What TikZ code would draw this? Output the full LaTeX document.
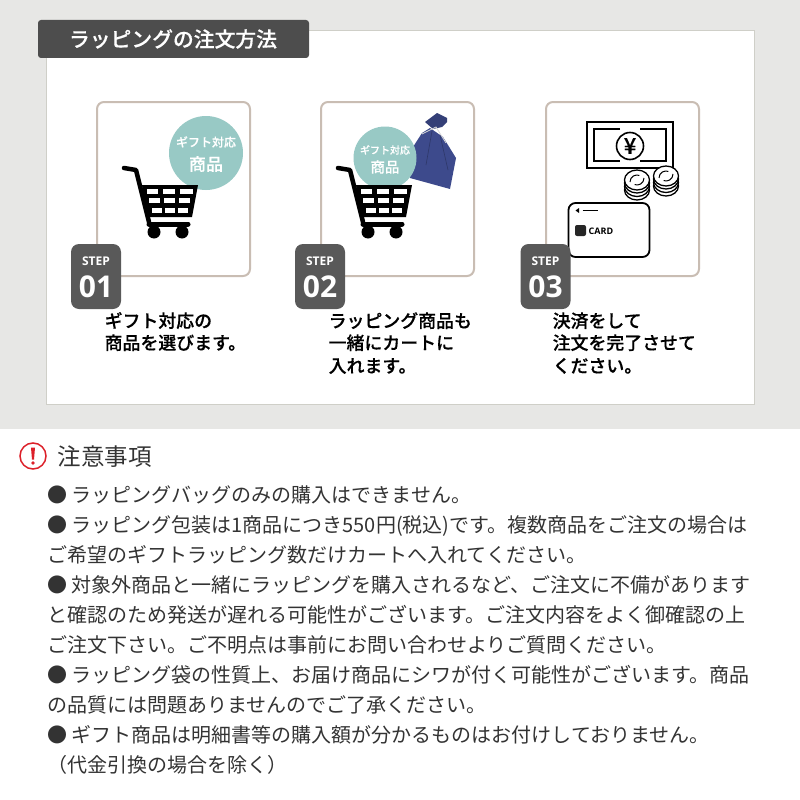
\documentclass[tikz,border=0pt]{standalone}
\usepackage{fontspec}
\setmainfont{Noto Sans CJK JP}
\newfontfamily\jpmedium[FakeBold=0.35]{Noto Sans CJK JP Medium}
\newfontfamily\latinfont{Open Sans}
\usetikzlibrary{positioning}
\definecolor{pagegray}{HTML}{E7E7E5}
\definecolor{panelline}{HTML}{CFCFC8}
\definecolor{barcolor}{HTML}{4D4D4D}
\definecolor{boxline}{HTML}{C9BDB3}
\definecolor{badgecolor}{HTML}{595959}
\definecolor{tealcolor}{HTML}{98C9C5}
\definecolor{bagcolor}{HTML}{3D4A8C}
\definecolor{textcolor}{HTML}{333333}
\definecolor{alertred}{HTML}{DC2029}
\tikzset{
  stepbox/.style={draw=boxline, line width=2pt, fill=white, rounded corners=7pt, minimum width=153pt, minimum height=174pt, inner sep=0pt},
  badge/.style={fill=badgecolor, rounded corners=8pt, minimum width=50pt, minimum height=65pt, inner sep=0pt},
  steplabel/.style={text=white, inner sep=0pt, font=\latinfont\bfseries\fontsize{12}{12}\selectfont},
  stepnum/.style={text=white, inner sep=0pt, font=\latinfont\bfseries\fontsize{30}{30}\selectfont},
  caption/.style={anchor=base west, inner sep=0pt, text=black, font=\jpmedium\fontsize{17.9}{17.9}\selectfont},
  noteline/.style={anchor=base west, inner sep=0pt, text=textcolor, font=\fontsize{20}{20}\selectfont},
  giftbadge/.style={circle, fill=tealcolor, inner sep=0pt, text=white, align=center},
  cart/.pic={
    \fill[black] (20,18) -- (76,18) -- (70,50) -- (25,50) -- cycle;
    \foreach \y/\a/\b/\c/\d/\e/\f in {22/25/36/41/53/58/71, 31/27/38/42/53/57/68, 41/30/40/43/53/56/66} {
      \fill[white] (\a,\y) rectangle (\b,\y+5);
      \fill[white] (\c,\y) rectangle (\d,\y+5);
      \fill[white] (\e,\y) rectangle (\f,\y+5);
    }
    \draw[line width=4.5pt, line cap=round, line join=round] (2,1) -- (14,3) -- (27,55);
    \draw[line width=5pt, line cap=round] (27,57) -- (66,57);
    \fill (32,65) circle (6.5);
    \fill (60,65) circle (6.5);
  }
}
\begin{document}
\begin{tikzpicture}[x=1pt, y=-1pt]
\useasboundingbox (0,0) rectangle (800,800);
\fill[pagegray] (0,0) rectangle (800,429);
\draw[panelline, fill=white] (46.5,30) rectangle (754,404);
\node[fill=barcolor, rounded corners=3pt, minimum width=271pt, minimum height=38pt, inner sep=0pt] (titlebar) at (173.5,39) {};
\node[text=white, inner sep=0pt, font=\jpmedium\fontsize{20.8}{20.8}\selectfont] (titletext) at (173,39) {ラッピングの注文方法};

\foreach \n/\x in {01/173.5, 02/397.5, 03/622.5}
\node[stepbox] (box\n) at (\x,189) {};

\node[giftbadge, minimum size=74pt] (gift1) at (206,153) {};
\node[text=white, inner sep=0pt, font=\jpmedium\fontsize{12}{12}\selectfont] (gifta1) at (206,142) {ギフト対応};
\node[text=white, inner sep=0pt, font=\jpmedium\fontsize{17}{17}\selectfont] (gifta2) at (206,164) {商品};
\pic at (122,167) {cart};

% bag
\fill[bagcolor] (422,133) -- (430,128) -- (443,137) -- (456,158) -- (450,189) -- (410,178) -- (413,147) -- cycle;
\fill[bagcolor!85!black] (425,122) -- (437,113) -- (447,118) -- (447,122) -- (442,127) -- (433,129) -- cycle;
\draw[bagcolor!75!black, line width=.6pt] (432,131) -- (426,165);
\draw[bagcolor!75!black, line width=.6pt] (440,135) -- (448,170);
\draw[white!85!black, line width=.8pt] (422,134) -- (436,127) -- (446,143);
\node[giftbadge, minimum size=63pt] (gift2) at (385,158) {};
\node[text=white, inner sep=0pt, font=\jpmedium\fontsize{10}{10}\selectfont] (giftb1) at (385,150) {ギフト対応};
\node[text=white, inner sep=0pt, font=\jpmedium\fontsize{14.5}{14.5}\selectfont] (giftb2) at (385,167) {商品};
\pic at (336,167) {cart};

% money
\draw[line width=1.6pt] (587,122) rectangle (673,168);
\draw[line width=1.6pt] (620,129) -- (594,129) -- (594,161) -- (620,161);
\draw[line width=1.6pt] (640,129) -- (666,129) -- (666,161) -- (640,161);
\node[circle, draw, line width=1.6pt, minimum size=27pt, inner sep=0pt, font=\jpmedium\fontsize{22}{22}\selectfont] (yen) at (630,146) {¥};
\foreach \cx/\cy in {637/180, 666/176} {
  \foreach \dy in {10,6.5,3}
    \draw[line width=1.3pt, fill=white] (\cx,\cy+\dy) ellipse (12.5 and 10);
  \draw[line width=1.3pt, fill=white] (\cx,\cy) ellipse (12.5 and 10);
  \draw[line width=1pt] (\cx-7,\cy+2) arc (180:290:7);
  \draw[line width=1pt] (\cx+7,\cy-2) arc (0:110:7);
}
\node[draw, line width=1.8pt, fill=white, rounded corners=7pt, minimum width=81pt, minimum height=54pt, inner sep=0pt] (card) at (609,230) {};
\fill (575.5,210.5) -- (579,208) -- (579,213) -- cycle;
\draw[line width=1.6pt] (582.5,210.5) -- (598,210.5);
\fill[black!85, rounded corners=2pt] (575,225) rectangle (586,236);
\node[inner sep=0pt, font=\latinfont\bfseries\fontsize{9}{9}\selectfont] (cardtext) at (601,231) {CARD};

\foreach \n/\x in {01/96, 02/320, 03/545.5} {
  \node[badge] (badge\n) at (\x,276.5) {};
  \node[steplabel] (step\n) at (\x,261) {STEP};
  \node[stepnum] (num\n) at (\x,287) {\n};
}

\node[caption] (capa1) at (104.5,327.5) {ギフト対応の};
\node[caption] (capa2) at (104.5,349.5) {商品を選びます。};
\node[caption] (capb1) at (328.5,327.5) {ラッピング商品も};
\node[caption] (capb2) at (328.5,349.5) {一緒にカートに};
\node[caption] (capb3) at (328.5,372.5) {入れます。};
\node[caption] (capc1) at (552.5,327.5) {決済をして};
\node[caption] (capc2) at (552.5,349.5) {注文を完了させて};
\node[caption] (capc3) at (552.5,372.5) {ください。};

% notes
\node[circle, draw=alertred, line width=1.5pt, minimum size=26pt, inner sep=0pt] (alert) at (33,456) {};
\fill[alertred] (31,447.5) -- (35,447.5) -- (34,459.5) -- (32,459.5) -- cycle;
\fill[alertred] (33,463) circle (1.9);
\node[anchor=base west, inner sep=0pt, text=textcolor, font=\fontsize{23.5}{23.5}\selectfont] (notehead) at (57.5,465) {注意事項};
\foreach \i/\y/\t in {
  1/502/{● ラッピングバッグのみの購入はできません。},
  2/532/{● ラッピング包装は1商品につき550円(税込)です。複数商品をご注文の場合は},
  3/562/{ご希望のギフトラッピング数だけカートへ入れてください。},
  4/592/{● 対象外商品と一緒にラッピングを購入されるなど、ご注文に不備があります},
  5/622/{と確認のため発送が遅れる可能性がございます。ご注文内容をよく御確認の上},
  6/652/{ご注文下さい。ご不明点は事前にお問い合わせよりご質問ください。},
  7/682/{● ラッピング袋の性質上、お届け商品にシワが付く可能性がございます。商品},
  8/712/{の品質には問題ありませんのでご了承ください。},
  9/742/{● ギフト商品は明細書等の購入額が分かるものはお付けしておりません。},
  10/772/{（代金引換の場合を除く）}}
\node[noteline] (note\i) at (47,\y) {\t};
\end{tikzpicture}
\end{document}
